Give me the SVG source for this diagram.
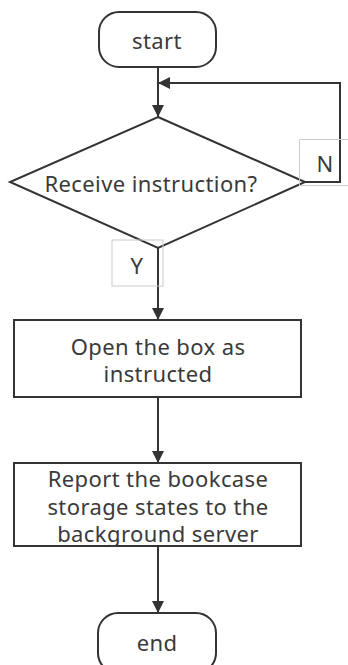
<svg xmlns="http://www.w3.org/2000/svg" width="348" height="665" viewBox="0 0 348 665">
<style>
.shape{fill:#fff;stroke:#333;stroke-width:2}
.lbl{fill:none;stroke:#ccc;stroke-width:1}
.edge{fill:none;stroke:#333;stroke-width:2}
text{font-family:"Noto Sans","Open Sans",sans-serif;font-size:22px;letter-spacing:0.4px;fill:#3a3a3a;text-anchor:middle}
</style>
<defs>
<marker id="arr" viewBox="0 0 12 12" refX="12" refY="6" markerWidth="12" markerHeight="12" markerUnits="userSpaceOnUse" orient="auto">
<path d="M0,0 L12,6 L0,12 Z" fill="#333"/>
</marker>
</defs>
<g id="connectors">
<path class="edge" d="M158,67 V117" marker-end="url(#arr)"/>
<path class="edge" d="M305,182 H340 V83 H158" marker-end="url(#arr)"/>
<path class="edge" d="M158,248 V320" marker-end="url(#arr)"/>
<path class="edge" d="M158,397 V463" marker-end="url(#arr)"/>
<path class="edge" d="M158,546 V613" marker-end="url(#arr)"/>
</g>
<g id="start">
<rect class="shape" x="99" y="12" width="117" height="55" rx="20"/>
<text x="157" y="49">start</text>
</g>
<g id="decision">
<polygon class="shape" points="158,117 305,182 158,248 10,182"/>
<text x="151" y="192">Receive instruction?</text>
</g>
<g id="labelN">
<rect class="lbl" x="299.5" y="139.5" width="49" height="46"/>
<text x="325" y="172">N</text>
</g>
<g id="labelY">
<rect class="lbl" x="112" y="240" width="51" height="46"/>
<text x="137" y="274">Y</text>
</g>
<g id="open">
<rect class="shape" x="14" y="320" width="287" height="77"/>
<text x="158" y="355">Open the box as</text>
<text x="158" y="382">instructed</text>
</g>
<g id="report">
<rect class="shape" x="14" y="463" width="287" height="83"/>
<text x="158" y="487">Report the bookcase</text>
<text x="158" y="515">storage states to the</text>
<text x="158" y="542">background server</text>
</g>
<g id="end">
<rect class="shape" x="98" y="613" width="118" height="60" rx="20"/>
<text x="157" y="651">end</text>
</g>
</svg>
